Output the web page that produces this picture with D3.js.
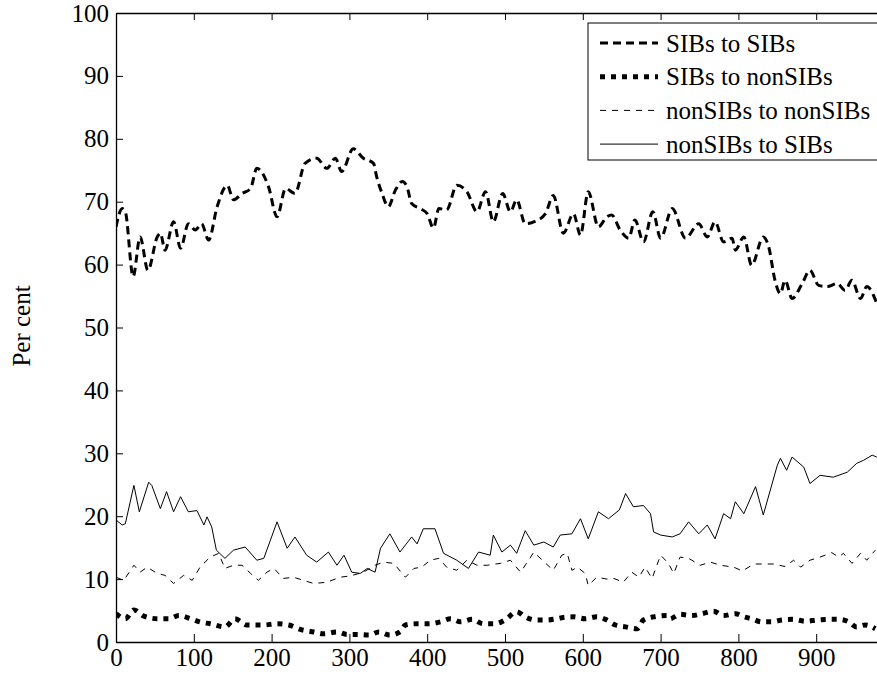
<!DOCTYPE html>
<html>
<head>
<meta charset="utf-8">
<script src="https://cdn.jsdelivr.net/npm/d3@7"></script>
<style>
  body { margin: 0; background: #fff; }
  svg { display: block; font-family: "Liberation Serif", "Times New Roman", serif; }
</style>
</head>
<body>
<svg id="chart" width="877" height="676"></svg>
<script>
// values: [x, per cent]
const sibsToSibs = [
  [0,66.0],[8,68.9],[12,68.4],[22,58.1],[31,64.4],[41,59.1],[53,64.4],[57,65.0],[63,62.3],[74,66.8],
  [83,62.6],[93,66.5],[102,65.5],[110,66.5],[119,63.9],[130,69.2],[143,72.6],[151,70.3],[162,71.3],[173,72.1],
  [181,75.3],[196,72.4],[207,67.6],[218,72.1],[230,71.3],[243,76.1],[258,76.9],[271,75.3],[282,76.9],[290,74.8],
  [305,78.4],[318,76.9],[331,76.1],[335,74.0],[342,71.3],[350,69.2],[359,71.8],[368,73.2],[374,72.4],[380,69.7],
  [391,68.9],[400,68.1],[408,65.8],[415,68.9],[425,68.7],[438,72.6],[451,71.6],[464,68.4],[475,71.6],[485,66.8],
  [497,71.3],[507,68.4],[515,70.3],[526,66.5],[537,66.8],[552,68.1],[562,71.0],[575,65.0],[588,68.1],[597,64.7],
  [607,71.6],[620,66.0],[631,67.6],[637,67.9],[648,65.5],[659,64.2],[667,67.1],[678,63.6],[690,68.4],[700,64.2],
  [715,68.9],[732,64.2],[749,66.5],[760,64.4],[770,66.8],[781,63.6],[792,64.2],[796,62.3],[807,64.4],[817,59.9],
  [832,64.4],[839,62.8],[847,57.5],[854,55.4],[860,57.5],[869,54.6],[882,57.0],[892,59.1],[903,56.7],[914,56.5],
  [927,57.0],[937,55.9],[946,57.5],[957,54.6],[965,56.5],[978,53.8]
]
const sibsToNonSibs = [
  [0,4.5],[12,3.7],[23,5.1],[36,4.1],[53,3.7],[68,3.7],[81,4.2],[96,3.7],[108,3.2],[121,2.9],
  [140,2.4],[153,3.7],[168,2.7],[190,2.7],[207,2.9],[222,2.7],[237,2.0],[254,1.6],[267,1.3],[284,1.6],
  [297,1.2],[310,1.2],[325,1.1],[338,1.6],[352,1.1],[365,1.6],[372,2.7],[387,2.9],[402,2.9],[417,3.2],
  [430,3.7],[443,3.2],[458,3.6],[472,2.9],[487,2.9],[500,3.5],[515,4.8],[526,4.0],[539,3.5],[554,3.5],
  [567,3.7],[575,3.9],[588,4.0],[603,3.7],[618,4.0],[631,3.5],[642,2.7],[655,2.4],[670,2.1],[678,3.5],
  [691,4.0],[708,4.2],[712,3.7],[725,4.4],[740,4.2],[753,4.5],[768,4.9],[781,4.2],[796,4.5],[807,4.0],
  [817,3.7],[830,3.2],[843,3.2],[856,3.5],[871,3.6],[886,3.3],[901,3.5],[916,3.6],[929,3.6],[942,3.2],
  [952,2.4],[963,2.7],[976,2.1]
]
const nonSibsToNonSibs = [
  [0,10.3],[10,9.8],[23,12.2],[31,11.1],[40,11.9],[53,10.9],[63,10.6],[74,9.3],[87,10.6],[98,9.8],
  [108,11.9],[121,13.5],[132,14.1],[140,11.7],[151,12.2],[162,12.2],[173,10.9],[183,9.8],[194,11.1],[203,11.7],
  [215,10.1],[228,10.3],[241,9.8],[254,9.3],[271,9.5],[288,10.3],[301,10.5],[318,11.1],[333,12.2],[344,12.7],
  [357,12.5],[372,10.3],[383,11.7],[393,11.9],[404,13.0],[415,13.3],[425,11.9],[438,11.4],[451,13.0],[464,12.2],
  [477,12.2],[494,12.5],[507,13.0],[520,11.1],[533,13.5],[537,14.3],[548,13.0],[562,11.4],[573,13.8],[580,14.1],
  [586,11.4],[593,11.9],[603,10.9],[607,9.0],[618,10.3],[631,10.0],[640,10.1],[652,9.5],[663,11.1],[672,10.3],
  [680,11.9],[689,10.1],[700,13.8],[710,12.5],[717,10.9],[725,13.5],[736,13.3],[751,12.2],[764,12.7],[777,12.2],
  [794,11.9],[805,11.3],[820,12.4],[845,12.4],[860,12.0],[871,13.0],[880,11.9],[892,13.0],[905,13.5],[920,14.2],
  [929,13.5],[935,14.1],[946,12.5],[957,14.1],[965,13.0],[976,14.6]
]
const nonSibsToSibs = [
  [0,19.4],[8,18.6],[12,18.8],[23,24.9],[30,20.7],[42,25.4],[46,24.9],[57,21.2],[65,23.9],[74,20.7],
  [83,23.1],[93,20.7],[104,20.9],[113,18.6],[117,19.9],[123,18.3],[129,14.6],[140,13.3],[151,14.6],[166,15.1],
  [181,13.0],[190,13.3],[207,19.1],[220,14.9],[230,16.7],[245,13.8],[258,12.7],[273,14.3],[284,12.2],[293,13.8],
  [303,11.1],[314,10.9],[323,11.7],[333,11.1],[340,14.9],[352,17.2],[365,14.3],[380,16.7],[387,15.6],[395,18.0],
  [410,18.0],[421,14.1],[438,13.0],[453,11.7],[466,14.3],[481,13.8],[485,17.0],[496,14.3],[507,15.4],[515,14.1],
  [526,17.7],[537,15.4],[550,15.9],[562,15.1],[571,17.0],[586,17.2],[597,19.6],[607,16.4],[620,20.7],[633,19.6],
  [647,21.0],[655,23.6],[665,21.5],[678,21.7],[687,20.4],[691,17.5],[700,17.0],[715,16.7],[725,17.2],[736,19.1],
  [749,17.2],[760,18.6],[770,16.4],[781,20.4],[790,19.6],[796,22.3],[807,20.4],[822,24.7],[832,20.2],[850,28.1],
  [854,29.2],[862,27.3],[869,29.4],[884,27.8],[892,25.2],[905,26.5],[922,26.2],[940,27.0],[952,28.4],[961,28.9],
  [972,29.7],[978,29.4]
]

const xTicks = [0, 100, 200, 300, 400, 500, 600, 700, 800, 900]
const yTicks = [0, 10, 20, 30, 40, 50, 60, 70, 80, 90, 100]

const series = [
  {name: "SIBs to SIBs", data: sibsToSibs, width: 3, dash: "8,5", curve: d3.curveMonotoneX},
  {name: "SIBs to nonSIBs", data: sibsToNonSibs, width: 5, dash: "5,6", curve: d3.curveMonotoneX},
  {name: "nonSIBs to nonSIBs", data: nonSibsToNonSibs, width: 1, dash: "6,6", curve: d3.curveLinear},
  {name: "nonSIBs to SIBs", data: nonSibsToSibs, width: 1, dash: null, curve: d3.curveLinear}
]

const svg = d3.select("#chart")
const m = {left: 116, top: 13, bottom: 642, right: 894}
const fontSize = "25px"

const x = d3.scaleLinear().domain([0, 1000]).range([m.left, m.right])
const y = d3.scaleLinear().domain([0, 100]).range([m.bottom, m.top])

svg.append("defs").append("clipPath").attr("id", "plot")
  .append("rect").attr("x", m.left).attr("y", m.top)
  .attr("width", m.right - m.left).attr("height", m.bottom - m.top)

const plot = svg.append("g").attr("clip-path", "url(#plot)")

series.forEach((s) => {
  const line = d3.line().x((d) => x(d[0])).y((d) => y(d[1])).curve(s.curve)
  plot.append("path")
    .datum(s.data)
    .attr("fill", "none")
    .attr("stroke", "#000")
    .attr("stroke-width", s.width)
    .attr("stroke-dasharray", s.dash)
    .attr("stroke-linejoin", "round")
    .attr("d", line)
})

function styleAxis(g) {
  g.attr("font-size", null).attr("font-family", null)
  g.select(".domain").attr("stroke", "#000").attr("stroke-width", 1.3)
  g.selectAll(".tick line").attr("stroke", "#000")
  g.selectAll(".tick text").attr("fill", "#000").style("font-size", fontSize)
}

svg.append("g")
  .attr("transform", `translate(0,${m.bottom})`)
  .call(d3.axisBottom(x).tickValues(xTicks).tickSize(-8).tickSizeOuter(0).tickPadding(6).tickFormat(d3.format("d")))
  .call(styleAxis)

svg.append("g")
  .attr("transform", `translate(0,${m.top})`)
  .call(d3.axisTop(x).tickValues(xTicks).tickSize(-7).tickSizeOuter(0).tickFormat(""))
  .call(styleAxis)

svg.append("g")
  .attr("transform", `translate(${m.left},0)`)
  .call(d3.axisLeft(y).tickValues(yTicks).tickSize(-7).tickSizeOuter(0).tickPadding(7).tickFormat(d3.format("d")))
  .call(styleAxis)

svg.append("text")
  .attr("transform", "translate(30,326) rotate(-90)")
  .attr("text-anchor", "middle")
  .style("font-size", fontSize)
  .text("Per cent")

// legend
const legend = svg.append("g")
legend.append("rect")
  .attr("x", 588).attr("y", 23).attr("width", 320).attr("height", 137)
  .attr("fill", "#fff").attr("stroke", "#000").attr("stroke-width", 1)

series.forEach((s, i) => {
  const ly = 43 + i * 33.7
  legend.append("line")
    .attr("x1", 600).attr("x2", 658).attr("y1", ly).attr("y2", ly)
    .attr("stroke", "#000")
    .attr("stroke-width", s.width)
    .attr("stroke-dasharray", s.dash)
  legend.append("text")
    .attr("x", 666).attr("y", ly + 8.5)
    .style("font-size", fontSize)
    .text(s.name)
})
</script>
</body>
</html>
